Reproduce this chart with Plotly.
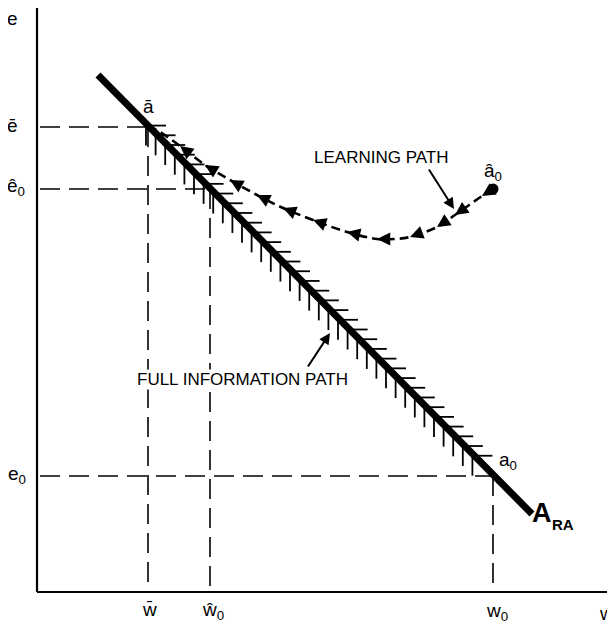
import numpy as np
import plotly.graph_objects as go

# ---- data (abstract w / e units; origin at the axes corner) ----
ARA_w = [61, 495]          # reaction curve A_RA end points
ARA_e = [517, 78]

w_bar, e_bar = 111, 465     # a-bar
w_hat0, e_hat0 = 173, 403   # point on A_RA at e-hat0
w0, e0 = 456, 116           # a0
a_hat0 = (456, 403)         # learning path start

learn_w = [456, 445, 418, 400, 373, 358, 340, 310, 276, 246, 220, 193, 168, 143, 123, 113]
learn_e = [403, 396, 377, 365, 355, 353, 353, 360, 372, 384, 397, 412, 427, 446, 460, 465]
arrow_idx = [1, 2, 3, 4, 6, 7, 8, 9, 10, 11, 12, 13]

FONT = "Liberation Sans, Arial, sans-serif"
BLACK = "#000000"

fig = go.Figure()

def seg(xs, ys, width=1.6, dash="20px,9px"):
    fig.add_trace(go.Scatter(x=xs, y=ys, mode="lines",
                             line=dict(color=BLACK, width=width, dash=dash),
                             hoverinfo="skip", showlegend=False))

# axes
seg([0, 586], [0, 0], width=2.2, dash="solid")
seg([0, 0], [0, 584], width=2.2, dash="solid")

# dashed guide lines
seg([3, w_bar], [e_bar, e_bar])
seg([w_bar, w_bar], [e_bar, 0])
seg([3, w_hat0], [e_hat0, e_hat0])
seg([w_hat0, w_hat0], [e_hat0, 0])
seg([3, w0], [e0, e0])
seg([w0, w0], [e0, 0])

# hatching along A_RA
slope = (ARA_e[1] - ARA_e[0]) / (ARA_w[1] - ARA_w[0])
def line_e(w):
    return ARA_e[0] + slope * (w - ARA_w[0])
hx, hy = [], []
for w in np.arange(w_bar, 442, 9.6):
    e = line_e(w)
    hx += [w, w + 18, None]
    hy += [e, e, None]
    hx += [w - 2, w - 2, None]
    hy += [e, e - 20, None]
fig.add_trace(go.Scatter(x=hx, y=hy, mode="lines", line=dict(color=BLACK, width=1.8),
                         hoverinfo="skip", showlegend=False))

# A_RA line
fig.add_trace(go.Scatter(x=ARA_w, y=ARA_e, mode="lines", line=dict(color=BLACK, width=7),
                         hoverinfo="skip", showlegend=False))

# learning path (dashed)
fig.add_trace(go.Scatter(x=learn_w, y=learn_e, mode="lines",
                         line=dict(color=BLACK, width=2.6, dash="9px,5px", shape="spline"),
                         hoverinfo="skip", showlegend=False))
# arrowheads along the learning path
for i in arrow_idx:
    dx = learn_w[i] - learn_w[i - 1]
    dy = learn_e[i] - learn_e[i - 1]
    n = (dx * dx + dy * dy) ** 0.5
    fig.add_annotation(x=learn_w[i], y=learn_e[i],
                       ax=learn_w[i] - 7 * dx / n, ay=learn_e[i] - 7 * dy / n,
                       xref="x", yref="y", axref="x", ayref="y", text="",
                       showarrow=True, arrowhead=2, arrowsize=1.15, arrowwidth=2.3,
                       arrowcolor=BLACK, standoff=0)
# a-hat0 dot
fig.add_trace(go.Scatter(x=[a_hat0[0]], y=[a_hat0[1]], mode="markers",
                         marker=dict(size=11, color=BLACK),
                         hoverinfo="skip", showlegend=False))

def label(x, y, text, size=19, bold=False, bg=None):
    fig.add_annotation(x=x, y=y, text=(f"<b>{text}</b>" if bold else text),
                       showarrow=False, xref="x", yref="y",
                       font=dict(family=FONT, size=size, color=BLACK),
                       bgcolor=bg, borderpad=0)

label(-25, 574, "e")
label(-25, 467, "ē")
label(-21, 405, "ê<sub>0</sub>")
label(-20, 117, "e<sub>0</sub>")
label(112, -17, "w\u0304")
label(176, -19, "ŵ<sub>0</sub>")
label(460, -20, "w<sub>0</sub>")
label(569, -21, "w")
label(111, 486, "ā")
label(456, 420, "â<sub>0</sub>")
label(471, 131, "a<sub>0</sub>")
label(505, 79, "A", size=27, bold=True)
label(526, 68, "RA", size=15, bold=True)

label(344, 435, "LEARNING PATH", size=17, bg="white")
label(205, 213, "FULL INFORMATION PATH", size=17, bg="white")

# pointer arrows
fig.add_annotation(x=417, y=383, ax=391, ay=424, xref="x", yref="y", axref="x", ayref="y",
                   showarrow=True, arrowhead=2, arrowsize=1.1, arrowwidth=2, arrowcolor=BLACK, text="")
fig.add_annotation(x=293, y=259, ax=270, ay=224, xref="x", yref="y", axref="x", ayref="y",
                   showarrow=True, arrowhead=2, arrowsize=1.1, arrowwidth=2, arrowcolor=BLACK, text="")

# the page has an 8px body margin, so the origin sits 8px further in
fig.update_layout(
    width=615, height=630,
    margin=dict(l=0, r=0, t=0, b=0),
    paper_bgcolor="white", plot_bgcolor="white",
    xaxis=dict(range=[-29, 586], visible=False, fixedrange=True),
    yaxis=dict(range=[-46, 584], visible=False, fixedrange=True),
    showlegend=False,
)

fig.write_html("out.html")
